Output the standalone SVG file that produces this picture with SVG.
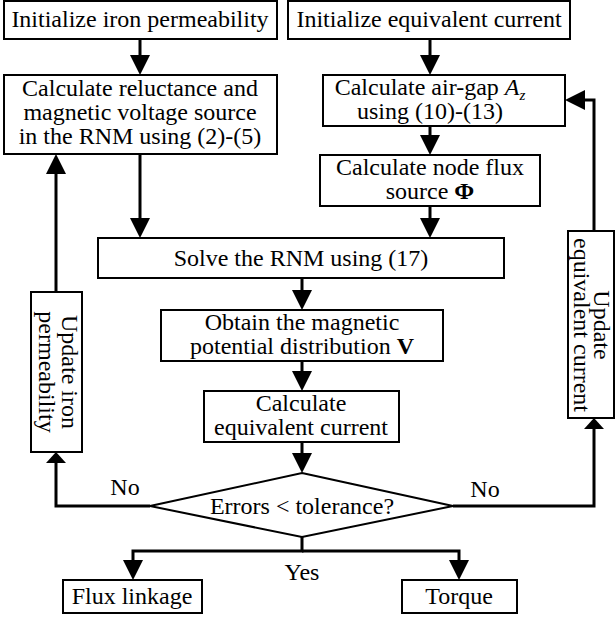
<svg xmlns="http://www.w3.org/2000/svg" width="616" height="617" viewBox="0 0 616 617">
<style>
.box{fill:#fff;stroke:#000;stroke-width:2}
.t{font-family:"Liberation Serif","Times New Roman",serif;font-size:24px;text-anchor:middle;fill:#000}
.c{fill:none;stroke:#000;stroke-width:3}
</style>
<defs>
<marker id="aL" markerUnits="userSpaceOnUse" markerWidth="20" markerHeight="20" viewBox="0 0 20 20" refX="16" refY="10" orient="auto"><path d="M0,0 L20,10 L0,20 z" fill="#000"/></marker>
<marker id="aS" markerUnits="userSpaceOnUse" markerWidth="11" markerHeight="20" viewBox="0 0 11 20" refX="7" refY="10" orient="auto"><path d="M0,0 L11,10 L0,20 z" fill="#000"/></marker>
</defs>
<rect width="616" height="617" fill="#fff"/>
<g id="connectors">
<path class="c" d="M140,39 V71" marker-end="url(#aL)"/>
<path class="c" d="M430,39 V71" marker-end="url(#aL)"/>
<path class="c" d="M430,126 V151" marker-end="url(#aL)"/>
<path class="c" d="M430,206 V234" marker-end="url(#aL)"/>
<path class="c" d="M140,154 V234" marker-end="url(#aL)"/>
<path class="c" d="M302,278 V306" marker-end="url(#aL)"/>
<path class="c" d="M302,361 V387" marker-end="url(#aL)"/>
<path class="c" d="M302,442 V469" marker-end="url(#aL)"/>
<path class="c" d="M302,537 V551 H133 V576" marker-end="url(#aL)"/>
<path class="c" d="M302,551 H459 V576" marker-end="url(#aL)"/>
<path class="c" d="M150,506 H56 V456" marker-end="url(#aS)"/>
<path class="c" d="M56,292 V158" marker-end="url(#aL)"/>
<path class="c" d="M453,506 H594 V422" marker-end="url(#aS)"/>
<path class="c" d="M594,231 V100 H569" marker-end="url(#aL)"/>
</g>
<g id="n1"><rect class="box" x="4" y="1" width="273" height="38"/><text class="t" x="140" y="27">Initialize iron permeability</text></g>
<g id="n2"><rect class="box" x="288" y="1" width="282" height="38"/><text class="t" x="429" y="27">Initialize equivalent current</text></g>
<g id="n3"><rect class="box" x="4" y="75" width="273" height="79"/><text class="t" x="140" y="96">Calculate reluctance and</text><text class="t" x="140" y="120">magnetic voltage source</text><text class="t" x="140" y="144">in the RNM using (2)-(5)</text></g>
<g id="n4"><rect class="box" x="323" y="75" width="242" height="51"/><text class="t" x="430" y="95">Calculate air-gap <tspan font-style="italic">A</tspan><tspan font-style="italic" font-size="15" dy="5">z</tspan></text><text class="t" x="430" y="119">using (10)-(13)</text></g>
<g id="n5"><rect class="box" x="320" y="155" width="220" height="51"/><text class="t" x="430" y="175">Calculate node flux</text><text class="t" x="430" y="199">source <tspan font-weight="bold">Φ</tspan></text></g>
<g id="n6"><rect class="box" x="98" y="238" width="406" height="40"/><text class="t" x="301" y="266">Solve the RNM using (17)</text></g>
<g id="n7"><rect class="box" x="161" y="310" width="282" height="51"/><text class="t" x="302" y="330">Obtain the magnetic</text><text class="t" x="302" y="354">potential distribution <tspan font-weight="bold">V</tspan></text></g>
<g id="n8"><rect class="box" x="204" y="391" width="195" height="51"/><text class="t" x="301" y="411">Calculate</text><text class="t" x="301" y="435">equivalent current</text></g>
<g id="n9"><polygon class="box" points="302,473 453,506 302,537 150,506"/><text class="t" x="302" y="514">Errors &lt; tolerance?</text></g>
<g id="n10"><rect class="box" x="31" y="292" width="51" height="160"/><g transform="translate(56,372) rotate(90)"><text class="t" x="0" y="-6">Update iron</text><text class="t" x="0" y="17">permeability</text></g></g>
<g id="n11"><rect class="box" x="568" y="231" width="46" height="187"/><g transform="translate(591,325) rotate(90)"><text class="t" x="0" y="-3">Update</text><text class="t" x="0" y="17">equivalent current</text></g></g>
<g id="n12"><rect class="box" x="63" y="580" width="139" height="33"/><text class="t" x="132" y="604">Flux linkage</text></g>
<g id="n13"><rect class="box" x="402" y="580" width="115" height="33"/><text class="t" x="459" y="604">Torque</text></g>
<g id="labels"><text class="t" x="125" y="495">No</text><text class="t" x="485" y="497">No</text><text class="t" x="302" y="580">Yes</text></g>
</svg>
